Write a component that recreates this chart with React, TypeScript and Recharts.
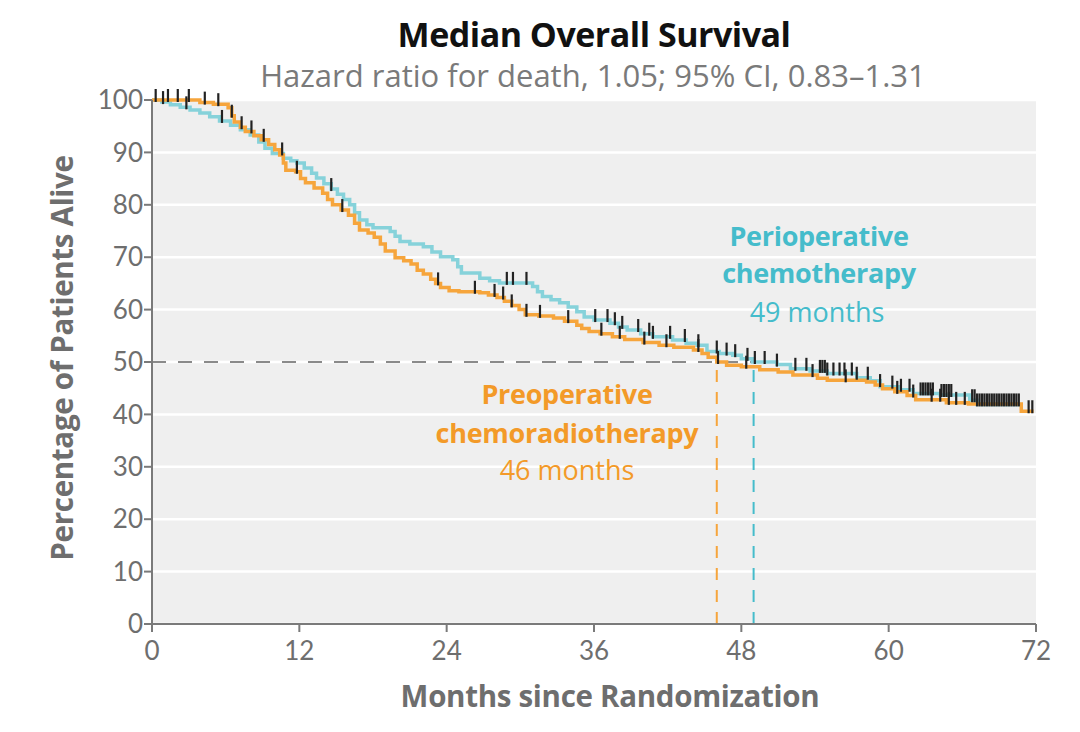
import React from 'react';
import { ComposedChart, Line, Scatter, XAxis, YAxis, CartesianGrid, ReferenceLine } from 'recharts';

// Preoperative chemoradiotherapy (orange)
const preopMonths = [0, 1.0, 3.9, 5.0, 6.2, 6.5, 6.7, 7.2, 7.6, 8.3, 8.9, 9.5, 10.0, 10.4, 10.7, 10.9, 11.7, 12.1, 12.5, 13.2, 13.9, 14.3, 14.7, 15.4, 16.0, 16.5, 16.9, 17.6, 18.1, 18.6, 19.0, 19.8, 20.5, 21.1, 21.6, 22.1, 22.7, 23.1, 23.5, 24.2, 25.0, 26.7, 27.4, 28.1, 28.7, 29.3, 29.9, 30.4, 31.5, 32.7, 33.6, 34.6, 35.0, 35.6, 36.5, 37.5, 38.5, 40.0, 41.3, 42.5, 44.1, 44.8, 45.3, 46.0, 46.8, 48.0, 49.5, 51.0, 52.2, 54.2, 55.0, 58.2, 58.9, 59.5, 60.5, 61.5, 62.2, 64.7, 66.5, 70.8, 71.8];
const preopSurvival = [100, 100, 99.5, 99.2, 98.5, 97, 95.8, 94.8, 94, 93.2, 92.4, 91.5, 90.5, 89.5, 88, 86.6, 86.3, 85, 84.2, 83.2, 82.2, 81, 80, 79, 78, 76.5, 75.2, 74.6, 73.8, 72.5, 71.2, 69.9, 69.3, 68.7, 67.5, 66.8, 65.8, 65.0, 64.2, 63.6, 63.4, 63.2, 62.8, 62.3, 61.6, 60.8, 60, 59.0, 58.8, 58.4, 57.8, 57, 56.4, 55.8, 55.4, 54.8, 54.3, 53.7, 53.2, 52.8, 52.3, 51.6, 50.9, 50.0, 49.4, 49.1, 48.5, 48.1, 47.5, 46.9, 46.5, 46.2, 45.6, 44.9, 44.3, 43.6, 42.8, 42.2, 42.0, 40.6, 40.6];

// Perioperative chemotherapy (blue)
const periMonths = [0, 0.8, 1.5, 2.3, 3.1, 3.9, 4.7, 5.5, 6.4, 7.2, 8.0, 8.7, 9.2, 9.8, 10.7, 11.3, 11.8, 12.4, 13.0, 13.4, 14.0, 14.6, 15.1, 15.6, 16.1, 16.5, 16.9, 17.5, 18.0, 19.4, 19.8, 20.2, 21.0, 22.1, 22.8, 23.5, 24.5, 24.9, 25.2, 26.7, 27.5, 28.3, 31.0, 31.4, 31.8, 32.5, 33.2, 33.9, 34.6, 35.2, 36.0, 37.3, 38.0, 38.7, 39.8, 40.8, 42.4, 43.5, 44.4, 45.2, 46.2, 47.3, 48.0, 48.9, 50.9, 52.0, 53.6, 55.0, 57.4, 58.5, 59.3, 60.9, 62.0, 64.2, 66.6, 67.2, 70.8];
const periSurvival = [100, 99.6, 99.1, 98.6, 98.1, 97.5, 96.8, 96, 95.2, 94.3, 93.3, 92, 90.8, 89.8, 88.9, 88.4, 88, 87, 86, 85.1, 84, 83, 82, 81, 80, 78.5, 77.1, 76.2, 75.6, 74.9, 74, 73, 72.5, 72, 71, 70.1, 69.5, 68.2, 67, 66, 65.5, 65.1, 64.4, 63.4, 62.5, 61.9, 61.3, 60.5, 59.6, 58.6, 58, 57.4, 56.7, 56.1, 55.4, 54.8, 54.2, 53.6, 53.2, 52.0, 51.6, 51.3, 50.6, 50.0, 49.5, 48.7, 48.3, 47.8, 47.0, 46.4, 45.3, 44.7, 44.0, 43.7, 42.7, 41.9, 41.9];

// Censoring times
const preopCensorMonths = [0.3, 1.3, 2.1, 3.0, 4.3, 5.4, 6.5, 7.3, 8.1, 9.1, 11.8, 15.5, 23.3, 26.3, 27.9, 28.6, 29.3, 30.5, 31.6, 33.9, 36.6, 38.1, 40.1, 41.9, 44.5, 46.1, 48.4, 53.8, 56.5, 59.3, 60.7, 62.0, 63.5, 64.2, 64.9, 65.5, 66.2, 71.4, 71.7];
const periCensorMonths = [0.9, 2.8, 5.7, 10.6, 14.6, 28.9, 29.4, 30.5, 36.1, 37.1, 37.7, 38.3, 39.6, 40.5, 40.8, 42.2, 43.4, 44.5, 46.0, 46.8, 47.5, 48.5, 49.1, 49.9, 50.9, 52.4, 53.3, 54.4, 54.6, 54.8, 55.0, 55.5, 56.0, 56.4, 57.0, 57.4, 58.3, 60.3, 61.0, 61.7, 62.6, 62.8, 63.0, 63.2, 63.4, 63.6, 64.3, 64.5, 64.7, 64.9, 65.1, 66.8, 67.0, 67.2, 67.4, 67.6, 67.8, 68.0, 68.2, 68.4, 68.6, 68.8, 69.0, 69.2, 69.4, 69.6, 69.8, 70.0, 70.2, 70.4, 70.6];

const xTicks = [0, 12, 24, 36, 48, 60, 72];
const yTicks = [0, 10, 20, 30, 40, 50, 60, 70, 80, 90, 100];
const preopMedian = 46;
const periMedian = 49;

const ORANGE = '#f6a53c';
const BLUE = '#86d2da';
const ORANGE_TXT = '#f39a28';
const BLUE_TXT = '#45bccb';
const FONT = '"Open Sans", Lato, sans-serif';
const TICK_FONT = 'Lato, "Open Sans", sans-serif';

const toPoints = (ms: number[], ss: number[]) => ms.map((m, i) => ({ m, s: ss[i] }));
const stepAt = (ms: number[], ss: number[], t: number) => {
  let v = ss[0];
  for (let i = 0; i < ms.length; i++) if (ms[i] <= t) v = ss[i];
  return v;
};

const preopData = toPoints(preopMonths, preopSurvival);
const periData = toPoints(periMonths, periSurvival);
const preopCensor = preopCensorMonths.map((m) => ({ m, s: stepAt(preopMonths, preopSurvival, m) }));
const periCensor = periCensorMonths.map((m) => ({ m, s: stepAt(periMonths, periSurvival, m) }));

const CensorMark = (props: any) => {
  const { cx, cy } = props;
  if (cx == null || cy == null) return null;
  return <line x1={cx} x2={cx} y1={cy - 11} y2={cy + 2} stroke="#222" strokeWidth={2.2} />;
};

const txt = (x: number, y: number, s: React.CSSProperties = {}): React.CSSProperties => ({
  position: 'absolute',
  left: x,
  top: y,
  transform: 'translate(-50%, -50%)',
  whiteSpace: 'nowrap',
  fontFamily: FONT,
  lineHeight: 1,
  ...s,
});

export default function App() {
  return (
    <div style={{ position: 'absolute', left: 0, top: 0, width: 1080, height: 732, background: '#fff', overflow: 'hidden' }}>
      <ComposedChart width={1080} height={732} margin={{ top: 100, right: 44, left: 92, bottom: 78 }}>
        <CartesianGrid vertical={false} stroke="#ffffff" strokeWidth={2.5} fill="#efefef" />
        <XAxis
          type="number"
          dataKey="m"
          domain={[0, 72]}
          ticks={xTicks}
          height={30}
          allowDuplicatedCategory={false}
          axisLine={{ stroke: '#7a7a7a', strokeWidth: 2 }}
          tickLine={{ stroke: '#7a7a7a', strokeWidth: 2 }}
          tickSize={8}
          tickMargin={10}
          tick={{ fill: '#6e6e6e', fontSize: 26, fontFamily: TICK_FONT }}
        />
        <YAxis
          type="number"
          domain={[0, 100]}
          ticks={yTicks}
          width={60}
          axisLine={{ stroke: '#7a7a7a', strokeWidth: 2 }}
          tickLine={{ stroke: '#7a7a7a', strokeWidth: 2 }}
          tickSize={8}
          tickMargin={1}
          tick={{ fill: '#6e6e6e', fontSize: 26, fontFamily: TICK_FONT }}
        />
        <ReferenceLine segment={[{ x: 0, y: 50 }, { x: periMedian, y: 50 }]} stroke="#8a8a8a" strokeWidth={2} strokeDasharray="14 12" />
        <ReferenceLine segment={[{ x: preopMedian, y: 0 }, { x: preopMedian, y: 50 }]} stroke={ORANGE} strokeWidth={2} strokeDasharray="12 10" />
        <ReferenceLine segment={[{ x: periMedian, y: 0 }, { x: periMedian, y: 50 }]} stroke={BLUE_TXT} strokeWidth={2} strokeDasharray="12 10" />
        <Line data={periData} dataKey="s" type="stepAfter" stroke={BLUE} strokeWidth={3.5} dot={false} isAnimationActive={false} />
        <Line data={preopData} dataKey="s" type="stepAfter" stroke={ORANGE} strokeWidth={3.5} dot={false} isAnimationActive={false} />
        <Scatter data={periCensor} dataKey="s" shape={CensorMark} isAnimationActive={false} />
        <Scatter data={preopCensor} dataKey="s" shape={CensorMark} isAnimationActive={false} />
      </ComposedChart>

      <div style={txt(594, 34, { fontSize: 34, fontWeight: 700, color: '#111', letterSpacing: -0.5 })}>Median Overall Survival</div>
      <div style={txt(593, 75, { fontSize: 31, color: '#7a7a7a' })}>Hazard ratio for death, 1.05; 95% CI, 0.83–1.31</div>
      <div style={txt(610, 696, { fontSize: 29.5, fontWeight: 700, color: '#6e6e6e', letterSpacing: -0.3 })}>Months since Randomization</div>
      <div style={txt(62, 358, { fontSize: 29.5, fontWeight: 700, color: '#6e6e6e', letterSpacing: -0.3, transform: 'translate(-50%, -50%) rotate(-90deg)' })}>Percentage of Patients Alive</div>

      <div style={txt(819, 235, { fontSize: 27, fontWeight: 700, color: BLUE_TXT, letterSpacing: -0.3 })}>Perioperative</div>
      <div style={txt(819, 272, { fontSize: 27, fontWeight: 700, color: BLUE_TXT, letterSpacing: -0.3 })}>chemotherapy</div>
      <div style={txt(817, 311, { fontSize: 27, color: BLUE_TXT })}>49 months</div>

      <div style={txt(567, 393, { fontSize: 27, fontWeight: 700, color: ORANGE_TXT, letterSpacing: -0.3 })}>Preoperative</div>
      <div style={txt(567, 432, { fontSize: 27, fontWeight: 700, color: ORANGE_TXT, letterSpacing: -0.3 })}>chemoradiotherapy</div>
      <div style={txt(567, 469, { fontSize: 27, color: ORANGE_TXT })}>46 months</div>
    </div>
  );
}
